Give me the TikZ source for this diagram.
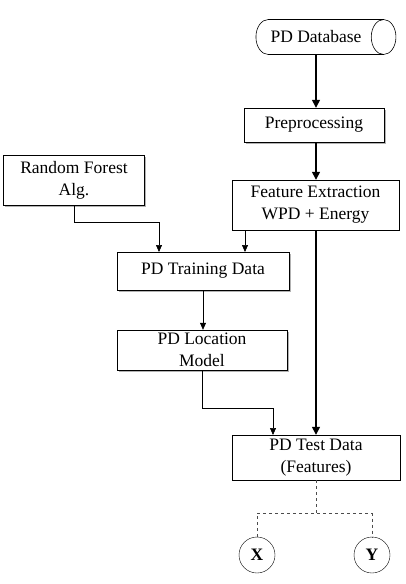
\documentclass[tikz,border=0pt]{standalone}
\usepackage{fontspec}
\setmainfont{Liberation Serif}
\usepackage{tikz}
\usetikzlibrary{positioning,arrows.meta,shapes.geometric,shadows}

\begin{document}
\begin{tikzpicture}[
    x=1pt, y=-1pt,
    every node/.style={font=\fontsize{17.5}{22}\selectfont},
    proc/.style={
        draw,
        rectangle,
        align=center,
        inner sep=2pt,
        fill=white
    },
    shproc/.style={
        proc,
        drop shadow={shadow xshift=1.8pt, shadow yshift=-1.8pt, fill=gray!60, opacity=1}
    },
    db/.style={
        draw,
        cylinder,
        shape border rotate=0,
        shape aspect=1.3,
        minimum width=35pt,
        minimum height=140pt,
        line width=0.6pt
    },
    outc/.style={
        draw,
        circle,
        minimum size=36pt,
        inner sep=0pt,
        font=\fontsize{17.5}{22}\selectfont\bfseries
    },
    thickarr/.style={-{Triangle[width=8pt,length=8pt]},line width=1.4pt},
    thinarr/.style={-{Triangle[width=6pt,length=7pt]},line width=0.6pt},
    dashln/.style={dashed,line width=1pt,gray!60!black}
]
\useasboundingbox (0,0) rectangle (406,584);

% ---------------------------------------------------------
% Blocchi
% ---------------------------------------------------------

\node[db] (database) at (316,37) {PD Database\hspace{26pt}};

\node[shproc,minimum width=140pt,minimum height=34pt] (prep) at (314,125)
{Preprocessing};

\node[proc,minimum width=167pt,minimum height=50pt] (feat) at (315.5,205)
{Feature Extraction\\WPD + Energy};

\node[shproc,minimum width=141pt,minimum height=50pt] (rf) at (74,180)
{Random Forest\\Alg.};

\node[shproc,minimum width=172pt,minimum height=38pt] (train) at (203,271)
{PD Training Data};

\node[shproc,minimum width=170pt,minimum height=40pt] (locmod) at (202,350)
{PD Location\\Model};

\node[proc,minimum width=168pt,minimum height=45pt] (test) at (316,457.5)
{PD Test Data\\(Features)};

\node[outc] (outx) at (257,555) {X};
\node[outc] (outy) at (372,555) {Y};

% ---------------------------------------------------------
% Collegamenti
% ---------------------------------------------------------

\draw[thickarr] (316,55) -- (prep.north -| 316,0);

\draw[thickarr] (prep.south -| 316,0) -- (feat.north -| 316,0);

\draw[thickarr] (feat.south -| 316,0) -- (test.north -| 316,0);

\draw[thinarr]
(rf.south) -- ++(0,17) -| (159,252);

\draw[thinarr]
(245,230) -- (245,252);

\draw[thinarr]
(train.south) -- (locmod.north -| train.south);

\draw[thinarr]
(locmod.south) -- ++(0,38) -| (273,435);

\draw[dashln]
(test.south) -- ++(0,33) coordinate (split);

\draw[dashln]
(outx.north) |- (split) -| (outy.north);

\end{tikzpicture}
\end{document}
